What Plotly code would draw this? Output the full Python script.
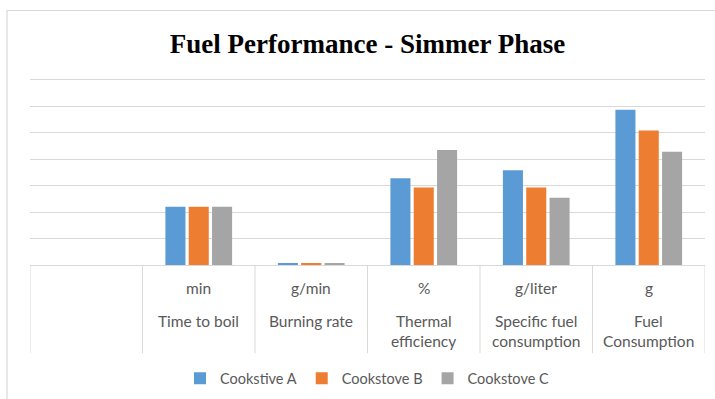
import plotly.graph_objects as go

# Measures shown along the category axis (a blank first column is kept on the left)
categories = ["Time to boil", "Burning rate", "Thermal efficiency",
              "Specific fuel consumption", "Fuel Consumption"]
units = ["min", "g/min", "%", "g/liter", "g"]
name_lines = [["Time to boil"], ["Burning rate"], ["Thermal", "efficiency"],
              ["Specific fuel", "consumption"], ["Fuel", "Consumption"]]

series_names = ["Cookstive A", "Cookstove B", "Cookstove C"]
cookstove_a = [44, 1.2, 65.5, 71.5, 117.3]
cookstove_b = [44, 1.2, 58.5, 58.5, 101.5]
cookstove_c = [44, 1.2, 86.8, 50.7, 85.6]
series_colors = ["#5B9BD5", "#ED7D31", "#A5A5A5"]

TEXT_GRAY = "#595959"
LINE_GRAY = "#D9D9D9"
LABEL_FONT = "Lato, 'Open Sans', sans-serif"

Y_TOP = 140      # top gridline value
Y_RANGE_MAX = 145  # a little headroom so the top gridline is drawn

fig = go.Figure()
for name, vals, col in zip(series_names, [cookstove_a, cookstove_b, cookstove_c], series_colors):
    fig.add_trace(go.Bar(x=categories, y=vals, name=name, marker=dict(color=col, line=dict(width=0))))

# plot box geometry in pixels: top gridline at 80px, baseline at 265px
GRID_TOP, PLOT_BOTTOM = 80, 265
PLOT_H = (PLOT_BOTTOM - GRID_TOP) * Y_RANGE_MAX / Y_TOP
PLOT_TOP = PLOT_BOTTOM - PLOT_H


def py(px):
    return (PLOT_BOTTOM - px) / PLOT_H


annotations = []
shapes = []
for i, (cat, unit, lines) in enumerate(zip(categories, units, name_lines)):
    annotations.append(dict(x=cat, xref="x", y=py(288), yref="paper", text=unit,
                            showarrow=False, yanchor="middle",
                            font=dict(size=15.5, color=TEXT_GRAY, family=LABEL_FONT)))
    for j, ln in enumerate(lines):
        annotations.append(dict(x=cat, xref="x", y=py(321 + 20 * j), yref="paper", text=ln,
                                showarrow=False, yanchor="middle",
                                font=dict(size=15.5, color=TEXT_GRAY, family=LABEL_FONT)))

# vertical separators of the category table
for k in range(len(categories) + 2):
    xv = -1.5 + k
    shapes.append(dict(type="line", xref="x", yref="paper", x0=xv, x1=xv,
                       y0=0, y1=py(353), line=dict(color=LINE_GRAY, width=1)))

# chart-area border
shapes.append(dict(type="rect", xref="paper", yref="paper",
                   x0=(7 - 30) / 675, x1=1.1, y0=py(410), y1=py(11),
                   line=dict(color="#D9D9D9", width=1.2), fillcolor="rgba(0,0,0,0)", layer="below"))

fig.update_layout(
    width=715, height=399,
    margin=dict(l=30, r=10, t=PLOT_TOP, b=399 - PLOT_BOTTOM, autoexpand=False),
    paper_bgcolor="white", plot_bgcolor="white",
    title=dict(text="<b>Fuel Performance - Simmer Phase</b>", x=0.5, xref="paper",
               xanchor="center", y=1 - 44 / 399, yanchor="middle",
               font=dict(family="Liberation Serif, 'Times New Roman', serif", size=27, color="#000000")),
    barmode="group", bargap=0.378, bargroupgap=0.14,
    xaxis=dict(type="category", range=[-1.5, 4.5], showticklabels=False, ticks="",
               showgrid=False, showline=True, linecolor=LINE_GRAY, linewidth=1, zeroline=False),
    yaxis=dict(range=[0, Y_RANGE_MAX], tickvals=[20, 40, 60, 80, 100, 120, 140], showticklabels=False,
               ticks="", showgrid=True, gridcolor=LINE_GRAY, gridwidth=1, zeroline=False, showline=False),
    legend=dict(orientation="h", x=0.5, xanchor="center", y=py(378), yanchor="middle",
                font=dict(size=14.5, color=TEXT_GRAY, family=LABEL_FONT),
                itemwidth=30, tracegroupgap=0, traceorder="normal"),
    annotations=annotations, shapes=shapes,
)

fig.write_html("out.html")
